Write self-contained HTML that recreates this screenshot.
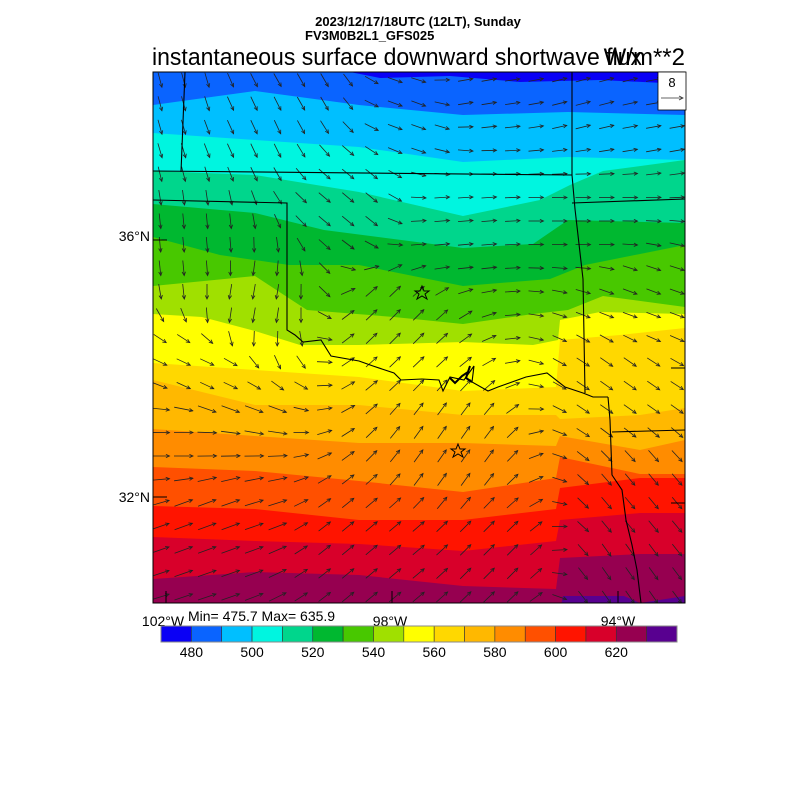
<!DOCTYPE html>
<html><head><meta charset="utf-8"><style>
html,body{margin:0;padding:0;background:#fff;}
svg{display:block;font-family:"Liberation Sans",sans-serif;}
</style></head><body>
<svg id="s" width="800" height="800" viewBox="0 0 800 800" xmlns="http://www.w3.org/2000/svg">
<defs><clipPath id="mc"><rect x="153" y="72" width="532" height="531"/></clipPath></defs>
<g id="field" clip-path="url(#mc)"></g>
<g id="arrows" clip-path="url(#mc)" stroke="#222" stroke-width="0.8" fill="none"></g>
<g clip-path="url(#mc)" stroke="#000" stroke-width="1.1" fill="none">
<polyline points="185,72 181,172"/>
<polyline points="153,171 572,175"/>
<polyline points="153,200 287,203 287,330 295,335 303,342 321,340 331,356 359,361 373,366 394,373 401,380 422,379 439,380 443,391 450,377 464,380 474,366 472,382 488,391 498,387 526,377 547,373 565,387 583,393 593,397 608,397"/>
<polyline points="572,72 572,175 575,209 583,279 585,393"/>
<polyline points="572,203 685,199"/>
<polyline points="608,397 610,420 612,475 622,490 626,520 632,545 637,570 641,603"/>
<polyline points="612,432 685,430"/>
<polyline stroke-width="2" points="450,378 455,383 462,376 468,372 470,366 466,378 472,382"/>
</g>
<rect x="153" y="72" width="532" height="531" fill="none" stroke="#000" stroke-width="1"/>
<g stroke="#000" stroke-width="1">
<line x1="153" y1="240" x2="167" y2="240"/><line x1="153" y1="497" x2="167" y2="497"/>
<line x1="685" y1="368" x2="671" y2="368"/><line x1="685" y1="503" x2="671" y2="503"/>
<line x1="166" y1="603" x2="166" y2="591"/><line x1="392" y1="603" x2="392" y2="591"/><line x1="618" y1="603" x2="618" y2="591"/>
</g>
<g fill="none" stroke="#000" stroke-width="1">
<polygon points="422,286 424,291 429,291 425,294 427,299 422,296 417,299 419,294 415,291 420,291"/>
<polygon points="458,444 460,449 465,449 461,452 463,457 458,454 453,457 455,452 451,449 456,449"/>
</g>
<rect x="658" y="72" width="28" height="38" fill="#fff" stroke="#000" stroke-width="0.8"/>
<text x="672" y="87" font-size="13" text-anchor="middle">8</text>
<line x1="661" y1="98" x2="683" y2="98" stroke="#333" stroke-width="0.8"/>
<polyline points="679,96 683,98 679,100" fill="none" stroke="#333" stroke-width="0.8"/>
<text x="418" y="26" font-size="13" font-weight="bold" text-anchor="middle">2023/12/17/18UTC (12LT), Sunday</text>
<text x="305" y="40" font-size="13" font-weight="bold">FV3M0B2L1_GFS025</text>
<text x="152" y="65" font-size="24" textLength="490" lengthAdjust="spacingAndGlyphs">instantaneous surface downward shortwave flux</text>
<text x="685" y="65" font-size="24" text-anchor="end">W/m**2</text>
<text x="150" y="241" font-size="14" text-anchor="end">36°N</text>
<text x="150" y="502" font-size="14" text-anchor="end">32°N</text>
<text x="163" y="626" font-size="14" text-anchor="middle">102°W</text>
<text x="390" y="626" font-size="14" text-anchor="middle">98°W</text>
<text x="618" y="626" font-size="14" text-anchor="middle">94°W</text>
<text x="188" y="621" font-size="14">Min= 475.7 Max= 635.9</text>
<g id="cb"></g>
</svg>
<script>
var NS="http://www.w3.org/2000/svg";
function el(t,a,p){var e=document.createElementNS(NS,t);for(var k in a)e.setAttribute(k,a[k]);p.appendChild(e);return e;}
var cols=["#0a00f5","#0a64ff","#00bfff","#00f5e0","#00d68c","#00b830","#48c800","#a0e000","#ffff00","#ffd800","#ffb800","#ff8c00","#ff5000","#ff1400","#d8002a","#960050","#580090"];
var f=document.getElementById("field");
el("rect",{x:153,y:72,width:532,height:531,fill:cols[1]},f);
var B=[
[0,[[350,72],[380,78],[450,76],[520,82],[600,80],[685,84]]],
[2,[[153,105],[255,91],[359,105],[463,115],[568,112],[685,115]]],
[3,[[153,133],[255,140],[359,147],[463,162],[568,157],[685,160]]],
[4,[[153,171],[255,175],[359,192],[463,216],[540,200],[570,185],[603,171],[685,160]]],
[5,[[153,204],[255,213],[324,230],[463,248],[533,244],[568,220],[685,223]]],
[6,[[153,237],[220,255],[289,265],[359,265],[463,286],[550,279],[585,265],[685,245]]],
[7,[[153,286],[255,276],[307,310],[394,317],[463,324],[533,314],[568,310],[603,296],[685,307]]],
[8,[[153,314],[202,317],[255,331],[300,345],[359,345],[463,342],[533,345],[558,340],[560,320],[600,312],[685,314]]],
[9,[[153,363],[255,370],[359,377],[463,391],[556,387],[560,340],[620,335],[685,328]]],
[10,[[153,380],[255,405],[359,405],[463,415],[556,415],[560,419],[640,415],[685,408]]],
[11,[[153,429],[255,436],[359,443],[463,443],[556,446],[560,436],[640,450],[685,440]]],
[12,[[153,467],[255,471],[359,481],[463,492],[556,478],[560,457],[640,474],[685,474]]],
[13,[[153,506],[255,509],[359,520],[463,520],[556,509],[560,488],[640,478],[685,478]]],
[14,[[153,537],[255,541],[359,544],[463,551],[556,541],[560,520],[640,513],[685,513]]],
[15,[[153,579],[255,572],[359,575],[463,586],[556,589],[560,558],[640,554],[685,554]]],
[16,[[153,610],[560,610],[563,596],[624,596],[640,603],[685,596]]]
];
B.forEach(function(b){
 var c=b[0],p=b[1];var s="";
 if(c===0){s=p.map(function(q){return q.join(",")}).join(" ")+" 685,72";}
 else{s=p.map(function(q){return q.join(",")}).join(" ")+" 685,610 153,610";}
 el("polygon",{points:s,fill:cols[c]},f);
});
var anch=[[170,90,75],[260,120,65],[300,90,60],[420,110,20],[470,90,-10],[600,90,-15],[660,120,-10],
[200,250,85],[250,300,100],[350,200,40],[450,230,-5],[600,220,0],[640,300,20],
[200,380,25],[180,440,0],[200,520,-20],[400,320,-45],[450,450,-55],[380,550,-40],[500,560,-45],
[620,380,35],[640,500,50],[620,580,55]];
var ag=document.getElementById("arrows");
for(var y=80;y<603;y+=23.5){for(var x=160;x<685;x+=23.5){
 var sw=0,sa=0,ca=0;
 anch.forEach(function(a){var d=(a[0]-x)*(a[0]-x)+(a[1]-y)*(a[1]-y)+100;var w=1/(d*d);var r=a[2]*Math.PI/180;sa+=w*Math.sin(r);ca+=w*Math.cos(r);sw+=w;});
 var ang=Math.atan2(sa,ca);var L=(x<300&&y>400)?19:15;
 var dx=Math.cos(ang)*L/2,dy=Math.sin(ang)*L/2;
 var x1=x-dx,y1=y-dy,x2=x+dx,y2=y+dy;
 el("line",{x1:x1.toFixed(1),y1:y1.toFixed(1),x2:x2.toFixed(1),y2:y2.toFixed(1)},ag);
 var h=4,a1=ang+2.7,a2=ang-2.7;
 el("polyline",{points:(x2+h*Math.cos(a1)).toFixed(1)+","+(y2+h*Math.sin(a1)).toFixed(1)+" "+x2.toFixed(1)+","+y2.toFixed(1)+" "+(x2+h*Math.cos(a2)).toFixed(1)+","+(y2+h*Math.sin(a2)).toFixed(1)},ag);
}}
var cb=document.getElementById("cb");var w=516/17;
for(var i=0;i<17;i++){el("rect",{x:(161+i*w).toFixed(2),y:626,width:w.toFixed(2),height:16,fill:cols[i],stroke:"#333","stroke-width":0.6},cb);}
el("rect",{x:161,y:626,width:516,height:16,fill:"none",stroke:"#888","stroke-width":1},cb);
for(var i=0;i<8;i++){var t=el("text",{x:(161+(i*2+1)*w).toFixed(1),y:657,"font-size":14,"text-anchor":"middle"},cb);t.textContent=480+i*20;}
</script>
</body></html>
